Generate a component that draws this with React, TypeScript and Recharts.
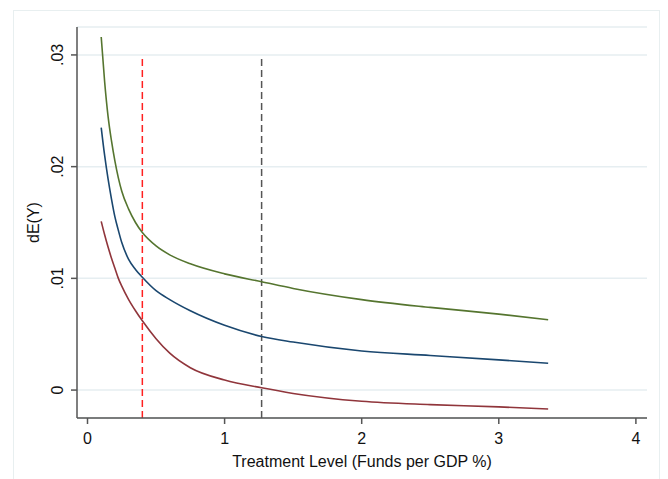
import { LineChart, Line, XAxis, YAxis, CartesianGrid, ReferenceLine } from 'recharts';

// treatment level (funds per GDP %) and marginal effect estimates
const treatment = [0.1, 0.125, 0.15, 0.175, 0.2, 0.225, 0.25, 0.3, 0.35, 0.4, 0.5, 0.6, 0.75, 1.0, 1.27, 1.5, 2.0, 2.5, 3.0, 3.36];
const upperBound = [0.0316, 0.0276, 0.0245, 0.0223, 0.0205, 0.019, 0.0178, 0.0162, 0.015, 0.0141, 0.0129, 0.0121, 0.0113, 0.0104, 0.0097, 0.0091, 0.0081, 0.0074, 0.0068, 0.0063];
const estimate = [0.0235, 0.021, 0.0189, 0.0171, 0.0155, 0.0143, 0.0132, 0.0117, 0.0108, 0.0101, 0.0089, 0.0081, 0.0071, 0.0058, 0.0048, 0.0043, 0.0035, 0.0031, 0.0027, 0.0024];
const lowerBound = [0.0151, 0.0139, 0.0128, 0.0118, 0.0109, 0.01, 0.0093, 0.0081, 0.0071, 0.0062, 0.0046, 0.0033, 0.002, 0.0009, 0.0002, -0.0003, -0.001, -0.0013, -0.0015, -0.0017];

const xTicks = [0, 1, 2, 3, 4];
const yTicks = [0, 0.01, 0.02, 0.03];
const yTickLabels = ['0', '.01', '.02', '.03'];
const cutoffs = [
  { x: 0.4, color: '#ff2020' },
  { x: 1.27, color: '#555555' },
];

const FONT = 'Arial, "Liberation Sans", sans-serif';

const data = treatment.map((t, i) => ({
  t,
  upper: upperBound[i],
  est: estimate[i],
  lower: lowerBound[i],
}));

const YTick = (props: any) => {
  const { x, y, payload } = props;
  const idx = yTicks.indexOf(payload.value);
  const tx = x - 6;
  return (
    <text x={tx} y={y} transform={`rotate(-90, ${tx}, ${y})`} textAnchor="middle" fontSize={16} fontFamily={FONT} fill="#111">
      {idx >= 0 ? yTickLabels[idx] : payload.value}
    </text>
  );
};

const XTick = (props: any) => {
  const { x, y, payload } = props;
  return (
    <text x={x} y={y} dy={18} textAnchor="middle" fontSize={16} fontFamily={FONT} fill="#111">
      {payload.value}
    </text>
  );
};

export default function App() {
  return (
    <div style={{ position: 'relative', width: 660, height: 471 }}>
      <div
        style={{
          position: 'absolute',
          left: 5,
          top: 2,
          width: 647,
          height: 480,
          border: '1px solid #e8eff0',
          boxSizing: 'border-box',
        }}
      />
      <LineChart width={660} height={471} data={data} margin={{ top: 19, right: 21, left: 0, bottom: 0 }}>
        <CartesianGrid horizontal vertical={false} stroke="#e6eef1" strokeWidth={1.5} />
        <XAxis
          dataKey="t"
          type="number"
          domain={[-0.0766, 4.081]}
          ticks={xTicks}
          allowDataOverflow
          height={61}
          tickSize={6}
          tickMargin={2}
          stroke="#555"
          strokeWidth={1.5}
          tick={<XTick />}
          label={{ value: 'Treatment Level (Funds per GDP %)', position: 'insideBottom', offset: 12, fontSize: 16, fontFamily: FONT, fill: '#111' }}
        />
        <YAxis
          type="number"
          domain={[-0.0025, 0.0325]}
          ticks={yTicks}
          allowDataOverflow
          width={69}
          tickSize={6}
          tickMargin={2}
          stroke="#555"
          strokeWidth={1.5}
          tick={<YTick />}
          label={{
            content: (p: any) => {
              const vb = p.viewBox;
              const cx = 31;
              const cy = vb.y + vb.height / 2;
              return (
                <text x={cx} y={cy} transform={`rotate(-90, ${cx}, ${cy})`} textAnchor="middle" fontSize={16} fontFamily={FONT} fill="#111">
                  dE(Y)
                </text>
              );
            },
          }}
        />
        {cutoffs.map((c) => (
          <ReferenceLine
            key={c.x}
            segment={[{ x: c.x, y: -0.0025 }, { x: c.x, y: 0.03 }]}
            stroke={c.color}
            strokeWidth={1.5}
            strokeDasharray="7 4"
          />
        ))}
        <Line type="monotone" dataKey="upper" stroke="#55752f" strokeWidth={1.6} dot={false} isAnimationActive={false} />
        <Line type="monotone" dataKey="est" stroke="#1a476f" strokeWidth={1.6} dot={false} isAnimationActive={false} />
        <Line type="monotone" dataKey="lower" stroke="#90353b" strokeWidth={1.6} dot={false} isAnimationActive={false} />
      </LineChart>
    </div>
  );
}
